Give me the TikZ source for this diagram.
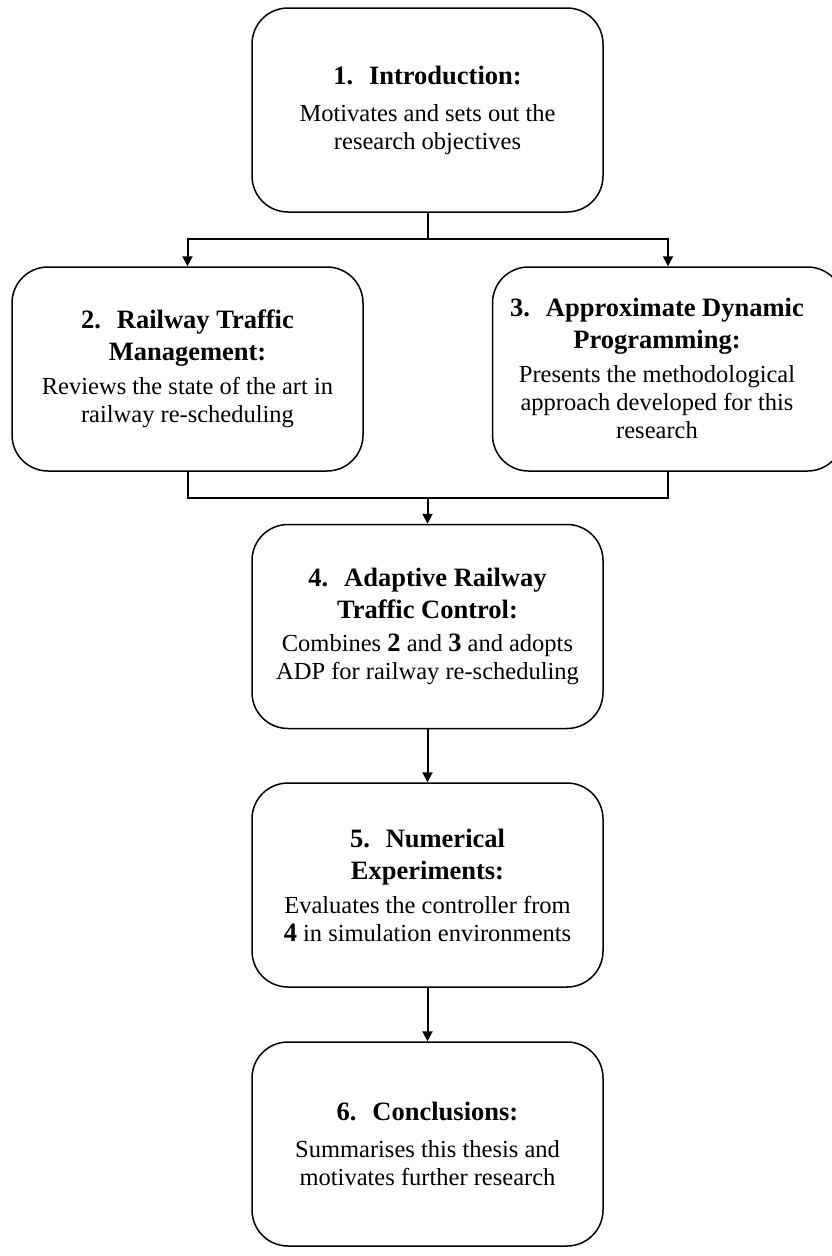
\documentclass[tikz,border=0pt]{standalone}
\usepackage{fontspec}
\setmainfont{Liberation Serif}
\usetikzlibrary{arrows.meta}

% Type sizes for headings and descriptions
\newcommand\headfont{\fontsize{26.5}{32}\selectfont\bfseries}
\newcommand\descfont{\fontsize{24.5}{28}\selectfont}
\newcommand\numgap{\hspace{0.6em}}

\begin{document}
\begin{tikzpicture}[x=1pt,y=-1pt,
  stagebox/.style={draw, line width=1.5pt, rounded corners=36pt,
    minimum width=351pt, minimum height=204pt, inner sep=0pt,
    align=center, font=\descfont},
  stagetext/.style={align=center, font=\descfont, inner sep=0pt},
  link/.style={line width=2pt},
  arrowlink/.style={link, -{Triangle[length=10pt,width=10pt]}}]

\fill[white] (0,0) rectangle (832,1256);
\useasboundingbox (0,0) rectangle (832,1256);

% Chapters
\node[stagebox] (intro) at (427.5,110)
  {{\headfont 1.\numgap Introduction:}\\[9pt]
   Motivates and sets out the\\
   research objectives};

\node[stagebox] (rtm) at (187.5,369)
  {{\headfont 2.\numgap Railway Traffic}\\[4pt]
   {\headfont Management:}\\[6pt]
   Reviews the state of the art in\\
   railway re-scheduling};

\node[stagebox] (adp) at (668,369) {};
\node[stagetext] (adptext) at (657,368)
  {{\headfont 3.\numgap Approximate Dynamic}\\[4pt]
   {\headfont Programming:}\\[6pt]
   Presents the methodological\\
   approach developed for this\\
   research};

\node[stagebox] (artc) at (427.5,626.5)
  {{\headfont 4.\numgap Adaptive Railway}\\[4pt]
   {\headfont Traffic Control:}\\[5pt]
   Combines {\headfont 2} and {\headfont 3} and adopts\\
   ADP for railway re-scheduling};

\node[stagebox] (numexp) at (427.5,885)
  {{\headfont 5.\numgap Numerical}\\[4pt]
   {\headfont Experiments:}\\[6pt]
   Evaluates the controller from\\
   {\headfont 4} in simulation environments};

\node[stagebox] (concl) at (427.5,1144)
  {{\headfont 6.\numgap Conclusions:}\\[9pt]
   Summarises this thesis and\\
   motivates further research};

% Flow between chapters
\coordinate (split) at (427.5,239);
\coordinate (merge) at (427.5,498);

\draw[link] (intro.south) -- (split);
\draw[arrowlink] (split) -| (rtm.north);
\draw[arrowlink] (split) -| (adp.north);

\draw[link] (rtm.south) |- (merge) -| (adp.south);
\draw[arrowlink] (merge) -- (artc.north);

\draw[arrowlink] (artc.south) -- (numexp.north);
\draw[arrowlink] (numexp.south) -- (concl.north);

\end{tikzpicture}
\end{document}
